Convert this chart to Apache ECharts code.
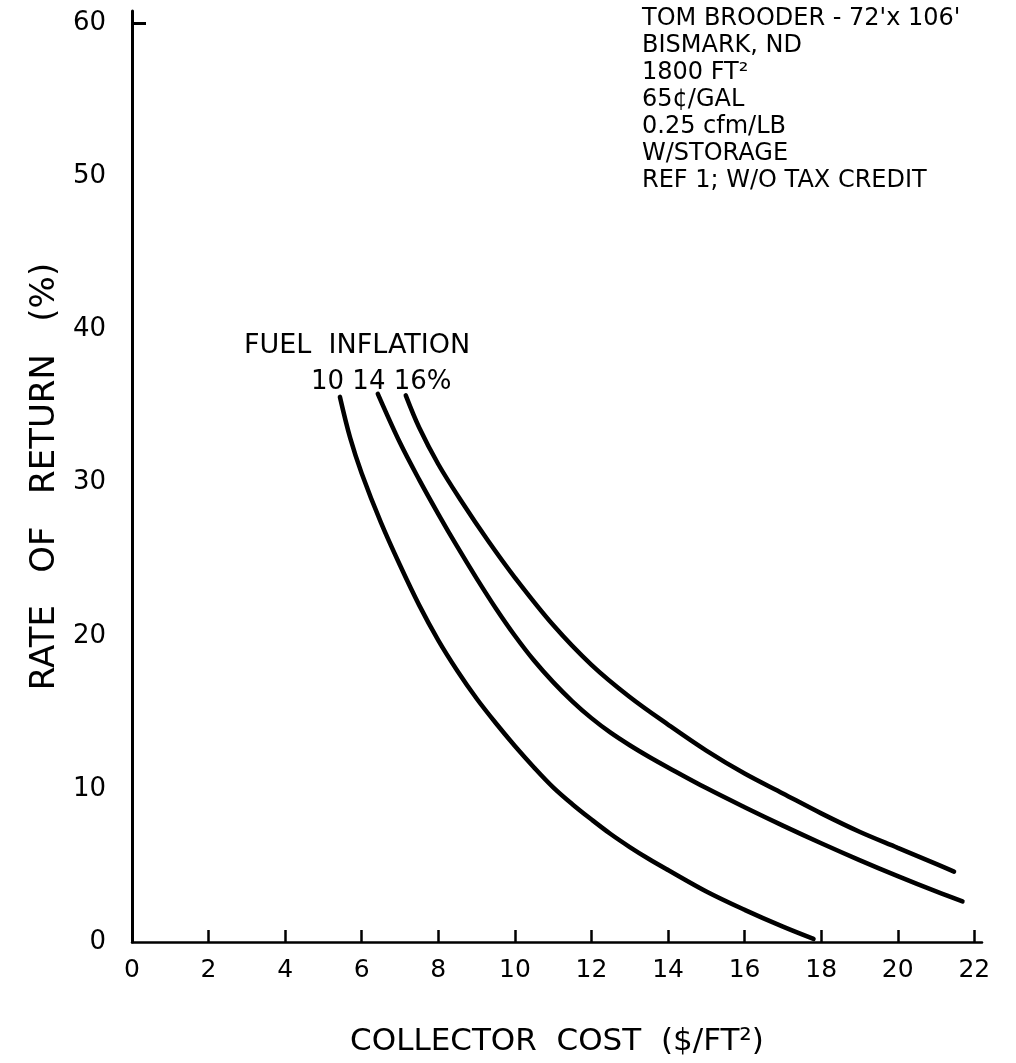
<!DOCTYPE html>
<html>
<head>
<meta charset="utf-8">
<script src="https://cdn.jsdelivr.net/npm/echarts@6/dist/echarts.min.js"></script>
<style>html,body{margin:0;padding:0;background:#fff;}#chart{width:1016px;height:1063px;}</style>
</head>
<body>
<div id="chart"></div>
<script>
// Collector cost ($/ft2) vs rate of return (%) for three fuel inflation rates
const inflation10 = [[5.43,35.6],[5.7,32.9],[6.0,30.6],[6.5,27.4],[7.0,24.6],[7.5,22.0],[8.0,19.7],[8.5,17.7],[9.0,15.9],[9.5,14.3],[10.0,12.8],[10.5,11.4],[11.0,10.1],[11.5,9.0],[12.0,8.0],[12.5,7.05],[13.0,6.2],[13.5,5.42],[14.0,4.7],[15.0,3.3],[16.0,2.1],[17.0,1.0],[17.8,0.2]];
const inflation14 = [[6.42,35.8],[7.0,32.6],[7.5,30.2],[8.0,27.95],[8.5,25.8],[9.0,23.75],[9.5,21.8],[10.0,20.0],[10.5,18.38],[11.0,16.97],[11.5,15.72],[12.0,14.62],[12.5,13.67],[13.0,12.85],[13.5,12.1],[14.0,11.4],[15.0,10.05],[16.0,8.8],[17.0,7.6],[18.0,6.45],[19.0,5.35],[20.0,4.3],[21.0,3.3],[21.69,2.65]];
const inflation16 = [[7.15,35.7],[7.5,33.6],[8.0,31.2],[8.6,28.8],[9.3,26.2],[10.0,23.8],[11.0,20.7],[12.0,18.1],[13.0,16.0],[14.0,14.2],[15.0,12.5],[16.0,11.0],[17.0,9.7],[18.0,8.4],[19.0,7.2],[20.0,6.15],[21.0,5.1],[21.47,4.6]];
const xTicks = [2,4,6,8,10,12,14,16,18,20,22];
const yTickTop = [60];
const noteLines = ["TOM BROODER - 72'x 106'","BISMARK, ND","1800 FT²","65¢/GAL","0.25 cfm/LB","W/STORAGE","REF 1; W/O TAX CREDIT"];
const curveTitle = "FUEL  INFLATION";
const curveLabels = "10 14 16%";

const FONT = '"DejaVu Sans", sans-serif';
const chart = echarts.init(document.getElementById('chart'));
function lineSeries(name, data){
  return {name:name,type:'line',data:data,smooth:0.35,symbol:'none',
    lineStyle:{color:'#000',width:4.5,cap:'round'},z:3};
}
const graphics = noteLines.map((t,i)=>({type:'text',left:642,top:7+i*27,
  style:{text:t,font:'24px '+FONT,fill:'#000'}}));
graphics.push({type:'text',left:244,top:332,style:{text:curveTitle,font:'27px '+FONT,fill:'#000'}});
graphics.push({type:'text',left:311,top:369,style:{text:curveLabels,font:'26px '+FONT,fill:'#000'}});

chart.setOption({
  backgroundColor:'#fff',
  animation:false,
  grid:{left:132,right:34,top:11,bottom:121,containLabel:false},
  xAxis:{type:'value',min:0,max:22.2,interval:2,
    name:'COLLECTOR  COST  ($/FT²)',nameLocation:'middle',nameGap:84,
    nameTextStyle:{fontSize:31,color:'#000',fontFamily:FONT},
    axisLine:{show:true,lineStyle:{color:'#000',width:2.5}},
    axisTick:{show:true,inside:true,length:12,customValues:xTicks,lineStyle:{color:'#000',width:2.5}},
    axisLabel:{margin:16,fontSize:25,fontFamily:FONT,color:'#000',showMaxLabel:false,
      formatter:v=>(v%2===0?String(v):'')},
    splitLine:{show:false}},
  yAxis:{type:'value',min:0,max:60.8,interval:10,
    name:'RATE   OF   RETURN   (%)',nameLocation:'middle',nameGap:70,nameRotate:90,
    nameTextStyle:{fontSize:34,color:'#000',fontFamily:FONT},
    axisLine:{show:true,lineStyle:{color:'#000',width:3}},
    axisTick:{show:true,inside:true,length:14,customValues:yTickTop,lineStyle:{color:'#000',width:3}},
    axisLabel:{margin:26,fontSize:26,fontFamily:FONT,color:'#000',showMaxLabel:false,
      formatter:v=>(v%10===0?String(v):'')},
    splitLine:{show:false}},
  series:[lineSeries('10%',inflation10),lineSeries('14%',inflation14),lineSeries('16%',inflation16)],
  graphic:graphics
});
</script>
</body>
</html>
